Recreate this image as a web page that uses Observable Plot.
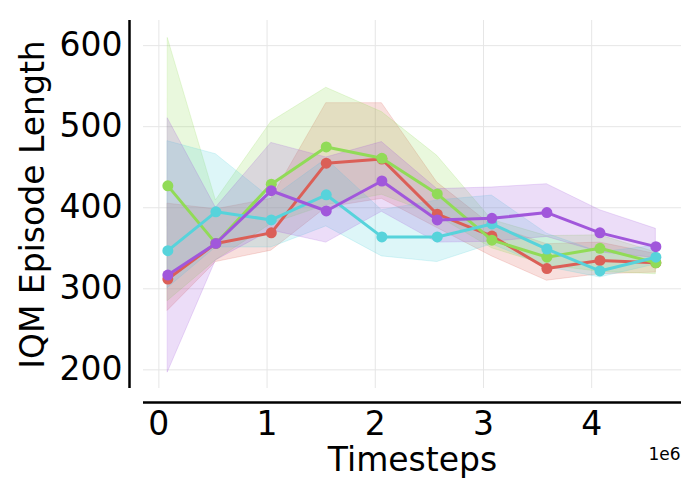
<!DOCTYPE html>
<html>
<head>
<meta charset="utf-8">
<script src="https://cdn.jsdelivr.net/npm/d3@7"></script>
<script src="https://cdn.jsdelivr.net/npm/@observablehq/plot@0.6"></script>
<style>
  html, body { margin: 0; padding: 0; background: #fff; }
  #chart { width: 700px; height: 500px; }
</style>
</head>
<body>
<div id="chart"></div>
<script>
// Timesteps (x) in units of 1e6
const timesteps = [0.083, 0.527, 1.039, 1.547, 2.061, 2.573, 3.078, 3.586, 4.076, 4.593];

const seriesNames = ["red", "green", "cyan", "purple"];
const seriesColors = ["#db5f57", "#91db57", "#57d3db", "#a157db"];

const redMean  = [312, 356, 369, 455, 460, 392, 365, 325, 335, 332];
const redLow   = [273, 333, 347, 400, 411, 375, 340, 310, 318, 320];
const redHigh  = [405, 398, 411, 529, 529, 431, 378, 355, 357, 343];

const greenMean = [427, 356, 429, 475, 461, 417, 360, 339, 350, 332];
const greenLow  = [285, 335, 380, 403, 416, 390, 350, 329, 321, 318];
const greenHigh = [609, 409, 506, 548, 518, 464, 385, 365, 366, 345];

const cyanMean = [347, 395, 385, 416, 364, 364, 380, 349, 322, 339];
const cyanLow  = [301, 351, 351, 377, 340, 333, 355, 327, 314, 330];
const cyanHigh = [482, 466, 411, 460, 397, 409, 415, 368, 345, 353];

const purpleMean = [317, 356, 421, 396, 433, 385, 387, 394, 369, 352];
const purpleLow  = [197, 335, 372, 357, 395, 357, 358, 364, 345, 338];
const purpleHigh = [510, 400, 480, 462, 481, 423, 425, 429, 397, 374];

const xTicks = [0, 1, 2, 3, 4];
const yTicks = [200, 300, 400, 500, 600];

const means = [redMean, greenMean, cyanMean, purpleMean];
const lows = [redLow, greenLow, cyanLow, purpleLow];
const highs = [redHigh, greenHigh, cyanHigh, purpleHigh];

const series = seriesNames.map((name, s) => ({
  name,
  color: seriesColors[s],
  rows: timesteps.map((t, i) => ({ t: t * 1e6, mean: means[s][i], lo: lows[s][i], hi: highs[s][i] }))
}));

const xDomain = [-0.142e6, 4.83e6];
const yDomain = [177, 631];

const marks = [
  Plot.gridX(xTicks.map(d => d * 1e6), { stroke: "#e6e6e6", strokeOpacity: 1, strokeWidth: 1 }),
  Plot.gridY(yTicks, { stroke: "#e6e6e6", strokeOpacity: 1, strokeWidth: 1 }),
  Plot.axisX(xTicks.map(d => d * 1e6), { tickFormat: d => String(d / 1e6), tickSize: 0, tickPadding: 23, fontSize: 33, label: null }),
  Plot.axisY(yTicks, { tickSize: 0, tickPadding: 21, fontSize: 33, label: null }),
  // offset spines
  Plot.ruleX([xDomain[0]], { dx: -14, stroke: "#000", strokeWidth: 2.5 }),
  Plot.ruleY([yDomain[0]], { dy: 14, stroke: "#000", strokeWidth: 2.5 })
];

for (const s of series) {
  marks.push(Plot.areaY(s.rows, { x: "t", y1: "lo", y2: "hi", fill: s.color, fillOpacity: 0.2, stroke: s.color, strokeOpacity: 0.2, strokeWidth: 1 }));
}
for (const s of series) {
  marks.push(Plot.lineY(s.rows, { x: "t", y: "mean", stroke: s.color, strokeWidth: 3 }));
  marks.push(Plot.dot(s.rows, { x: "t", y: "mean", fill: s.color, r: 5.5 }));
}

marks.push(Plot.text(["Timesteps"], { text: d => d, frameAnchor: "bottom", dy: 72, lineAnchor: "middle", fontSize: 33, fill: "#000" }));
marks.push(Plot.text(["1e6"], { text: d => d, frameAnchor: "bottom-right", dx: -1, dy: 66, lineAnchor: "middle", fontSize: 17, textAnchor: "end", fill: "#000" }));
marks.push(Plot.text(["IQM Episode Length"], { text: d => d, frameAnchor: "left", dx: -110, rotate: -90, textAnchor: "middle", lineAnchor: "middle", fontSize: 33, fill: "#000" }));

const chart = Plot.plot({
  width: 700,
  height: 500,
  marginLeft: 143,
  marginRight: 19,
  marginTop: 20,
  marginBottom: 112,
  x: { domain: xDomain },
  y: { domain: yDomain },
  style: { fontFamily: "DejaVu Sans", color: "#000", background: "#fff", overflow: "visible" },
  marks
});
document.getElementById("chart").appendChild(chart);
</script>
</body>
</html>
